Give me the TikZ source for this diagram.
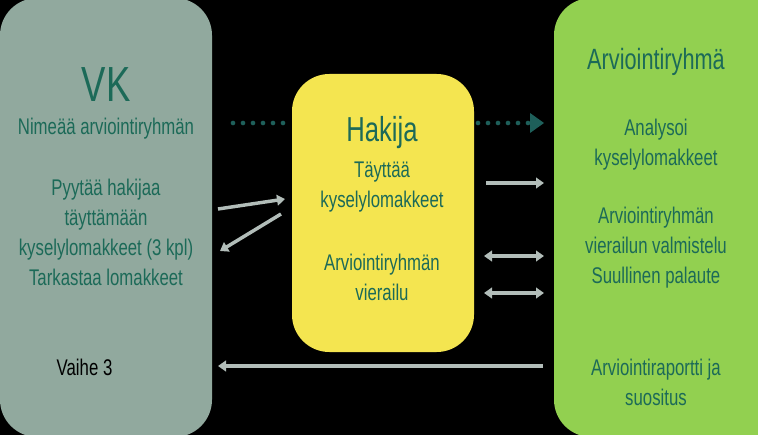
\documentclass[tikz,border=0pt]{standalone}
\usepackage{fontspec}
\setmainfont{Liberation Sans}[FakeStretch=0.74]
\usetikzlibrary{arrows.meta}
\definecolor{vkgrey}{HTML}{91A99E}
\definecolor{hakyellow}{HTML}{F4E550}
\definecolor{argreen}{HTML}{92D050}
\definecolor{tealtxt}{HTML}{1C6A58}
\definecolor{arrgrey}{HTML}{B2BDB9}
\definecolor{dotteal}{HTML}{1E5F5A}
\tikzset{
  box/.style={rounded corners=28pt},
  txt/.style={text=tealtxt,align=center,font=\fontsize{17}{22.5}\selectfont},
  arr/.style={draw=arrgrey,line width=2.6pt,-{Triangle[length=6pt,width=8pt]}},
  darr/.style={arr,{Triangle[length=6pt,width=8pt]}-{Triangle[length=6pt,width=8pt]}},
  dots/.style={draw=dotteal,line width=3.5pt,line cap=round,dash pattern=on 0pt off 7.5pt}
}
\begin{document}
\begin{tikzpicture}[x=0.75pt,y=-0.75pt]
  \fill[black] (0,0) rectangle (758,435);
  \useasboundingbox (0,0) rectangle (758,435);

  % boxes
  \fill[vkgrey,box] (0,-2) rectangle (212,437);
  \fill[hakyellow,box] (292,74) rectangle (474,352);
  \fill[argreen,box] (554,-2) rectangle (790,437);

  % VK
  \node[txt,font=\fontsize{37}{37}\selectfont] (vk) at (106,85) {VK};
  \node[txt] (vk1) at (106,129) {Nimeää arviointiryhmän};
  \node[txt] (vk2) at (106,232) {Pyytää hakijaa\\täyttämään\\kyselylomakkeet (3 kpl)\\Tarkastaa lomakkeet};
  \node[txt,text=black,anchor=west] (vaihe) at (52,367) {Vaihe 3};

  % Hakija
  \node[txt,font=\fontsize{26}{26}\selectfont] (hak) at (382,133) {Hakija};
  \node[txt] (hak1) at (382,187) {Täyttää\\kyselylomakkeet};
  \node[txt] (hak2) at (382,277) {Arviointiryhmän\\vierailu};

  % Arviointiryhma
  \node[txt,font=\fontsize{22}{22}\selectfont] (ar) at (656,62) {Arviointiryhmä};
  \node[txt] (ar1) at (656,145) {Analysoi\\kyselylomakkeet};
  \node[txt] (ar2) at (656,248) {Arviointiryhmän\\vierailun valmistelu\\Suullinen palaute};
  \node[txt] (ar3) at (656,382) {Arviointiraportti ja\\suositus};

  % connectors
  \coordinate (d1) at (233,123); \coordinate (d2) at (288,123);
  \coordinate (d3) at (478,123); \coordinate (d4) at (532,123);
  \draw[dots] (d1) -- (d2);
  \draw[dots] (d3) -- (d4);
  \fill[dotteal] (530,113) -- (544,123) -- (530,133) -- cycle;

  \coordinate (a1) at (486,183); \coordinate (a2) at (544,183);
  \draw[arr] (a1) -- (a2);
  \coordinate (b1) at (484,256); \coordinate (b2) at (544,256);
  \draw[darr] (b1) -- (b2);
  \coordinate (c1) at (484,293); \coordinate (c2) at (544,293);
  \draw[darr] (c1) -- (c2);
  \coordinate (e1) at (543,366); \coordinate (e2) at (218,366);
  \draw[arr] (e1) -- (e2);
  \coordinate (f1) at (218,209); \coordinate (f2) at (285,199);
  \draw[arr] (f1) -- (f2);
  \coordinate (g1) at (281,214); \coordinate (g2) at (220,251);
  \draw[arr] (g1) -- (g2);
\end{tikzpicture}
\end{document}
